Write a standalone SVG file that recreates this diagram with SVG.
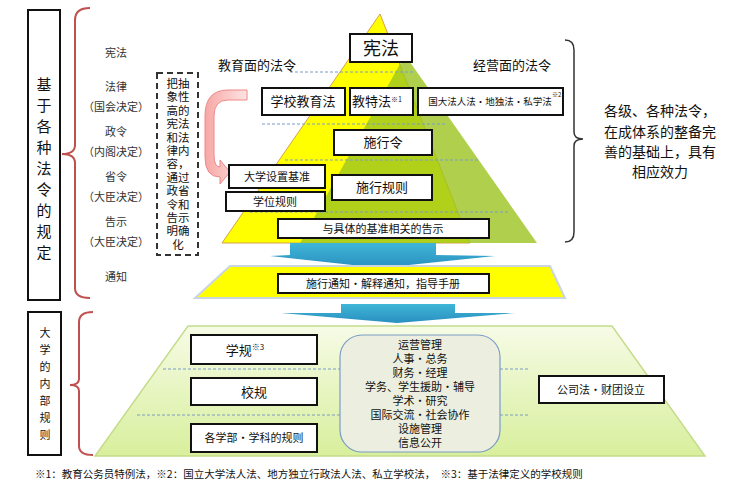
<svg xmlns="http://www.w3.org/2000/svg" width="752" height="498" viewBox="0 0 752 498">
<style>
text{font-family:"Noto Sans CJK SC","Liberation Sans",sans-serif;fill:#111}
.b{fill:#fff;stroke:#111;stroke-width:2}
.d{stroke:#7a9cc6;stroke-width:1;stroke-dasharray:3 2;fill:none}
.br{fill:none;stroke:#c0504d;stroke-width:2}
.t{font-size:13px;text-anchor:middle}
.s{font-size:11px;text-anchor:middle;fill:#333}
</style>
<defs>
<linearGradient id="g" x1="0" y1="0" x2="0" y2="1"><stop offset="0" stop-color="#f6fbe6"/><stop offset="1" stop-color="#d8ef9c"/></linearGradient>
<linearGradient id="bl" x1="0" y1="0" x2="0" y2="1"><stop offset="0" stop-color="#3fb6d8"/><stop offset="1" stop-color="#2a8fbf"/></linearGradient>
<linearGradient id="pk" x1="0" y1="0" x2="1" y2="0"><stop offset="0" stop-color="#f7a7a5"/><stop offset="1" stop-color="#fde4e3"/></linearGradient>
</defs>
<g id="left-top"><rect x="28" y="10" width="32" height="290" fill="#fff" stroke="#111" stroke-width="2"/>
<text x="44" y="90" font-size="15" text-anchor="middle" fill="#333"><tspan x="44">基</tspan><tspan x="44" dy="21">于</tspan><tspan x="44" dy="21">各</tspan><tspan x="44" dy="21">种</tspan><tspan x="44" dy="21">法</tspan><tspan x="44" dy="21">令</tspan><tspan x="44" dy="21">的</tspan><tspan x="44" dy="21">规</tspan><tspan x="44" dy="21">定</tspan></text></g>
<path class="br" d="M90 8 Q75 8 75 20 V145 Q75 154 62 154 Q75 154 75 163 V288 Q75 298 90 298"/>
<g id="levels">
<text class="s" x="116" y="57">宪法</text>
<text class="s" x="116" y="91">法律</text><text class="s" x="116" y="111">（国会决定）</text>
<text class="s" x="116" y="136">政令</text><text class="s" x="116" y="156">（内阁决定）</text>
<text class="s" x="116" y="181">省令</text><text class="s" x="116" y="201">（大臣决定）</text>
<text class="s" x="116" y="226">告示</text><text class="s" x="116" y="246">（大臣决定）</text>
<text class="s" x="116" y="281">通知</text></g>
<g id="note"><rect x="157" y="73" width="41" height="182" fill="#fff" stroke="#333" stroke-width="2" stroke-dasharray="6 4"/>
<text font-size="11.5" text-anchor="middle"><tspan x="178" y="88">把抽</tspan><tspan x="178" dy="13.4">象性</tspan><tspan x="178" dy="13.4">高的</tspan><tspan x="178" dy="13.4">宪法</tspan><tspan x="178" dy="13.4">和法</tspan><tspan x="178" dy="13.4">律内</tspan><tspan x="178" dy="13.4">容，</tspan><tspan x="178" dy="13.4">通过</tspan><tspan x="178" dy="13.4">政省</tspan><tspan x="178" dy="13.4">令和</tspan><tspan x="178" dy="13.4">告示</tspan><tspan x="178" dy="13.4">明确</tspan><tspan x="178" dy="13.4">化</tspan></text></g>
<g id="pyramid">
<polygon points="380,14 222,243 470,243" fill="#ffff00" stroke="#d6a04a" stroke-width="1"/>
<polygon points="405,55 537,243 300,243" fill="#9cc421" opacity="0.8"/>
<line x1="290" y1="72" x2="415" y2="72" class="d"/>
<line x1="262" y1="124" x2="445" y2="124" class="d"/>
<line x1="285" y1="160" x2="480" y2="160" class="d"/>
<line x1="250" y1="212" x2="510" y2="212" class="d"/>
</g>
<path d="M247 100 H228 Q214 100 214 116 V155 Q214 167 220 167 V160 L230 172 L220 184 V177 Q205 177 205 157 V116 Q205 90 228 90 H247 Z" fill="url(#pk)" stroke="#e88" stroke-width="1"/>
<text x="257" y="70" font-size="13" text-anchor="middle">教育面的法令</text>
<text x="512" y="70" font-size="13" text-anchor="middle">经营面的法令</text>
<g id="n-kenpo"><rect class="b" x="350" y="34" width="62" height="28"/><text x="381" y="55" font-size="18" text-anchor="middle">宪法</text></g>
<g id="n-gakko"><rect class="b" x="262" y="88" width="83" height="27"/><text class="t" x="303" y="106">学校教育法</text></g>
<g id="n-kyotoku"><rect class="b" x="350" y="88" width="63" height="27"/><text class="t" x="377" y="106">教特法<tspan font-size="7" dy="-4">※1</tspan></text></g>
<g id="n-kokudai"><rect class="b" x="418" y="88" width="145" height="27"/><text x="490" y="105" font-size="9.5" text-anchor="middle" fill="#333">国大法人法・地独法・私学法</text><text x="552" y="97" font-size="6" fill="#333">※2</text></g>
<g id="n-shikorei"><rect class="b" x="334" y="130" width="98" height="25"/><text class="t" x="383" y="147">施行令</text></g>
<g id="n-settchi"><rect class="b" x="229" y="165" width="96" height="23"/><text x="277" y="181" font-size="11" text-anchor="middle">大学设置基准</text></g>
<g id="n-shikokisoku"><rect class="b" x="332" y="175" width="100" height="25"/><text class="t" x="382" y="192">施行规则</text></g>
<g id="n-gakui"><rect class="b" x="226" y="192" width="99" height="19"/><text x="275" y="206" font-size="11" text-anchor="middle">学位规则</text></g>
<g id="n-kokuji"><rect class="b" x="278" y="219" width="211" height="19"/><text x="383" y="233" font-size="11" text-anchor="middle">与具体的基准相关的告示</text></g>
<path d="M565 40 Q574 40 574 50 V132 Q574 139 583 139 Q574 139 574 146 V232 Q574 242 565 242" fill="none" stroke="#333" stroke-width="1.5"/>
<text font-size="14" text-anchor="middle"><tspan x="660" y="116">各级、各种法令，</tspan><tspan x="660" y="137">在成体系的整备完</tspan><tspan x="660" y="157">善的基础上，具有</tspan><tspan x="660" y="177">相应效力</tspan></text>
<g id="connectors">
<polygon points="290,243 436,243 436,255 495,256 380,268 270,256 290,255" fill="url(#bl)"/>
<polygon points="341,304 455,304 455,313 515,313 397,323 281,313 341,313" fill="url(#bl)"/>
</g>
<polygon points="230,266 550,266 565,298 195,298" fill="#ffff00" stroke="#c9d6e0" stroke-width="2"/>
<g id="n-tsuchi"><rect class="b" x="278" y="274" width="211" height="19"/><text x="383" y="288" font-size="11" text-anchor="middle">施行通知・解释通知，指导手册</text></g>
<g id="left-bottom"><rect x="28" y="312" width="33" height="143" fill="#fff" stroke="#111" stroke-width="2"/>
<text font-size="11" text-anchor="middle" fill="#333"><tspan x="45" y="337">大</tspan><tspan x="45" dy="17">学</tspan><tspan x="45" dy="17">的</tspan><tspan x="45" dy="17">内</tspan><tspan x="45" dy="17">部</tspan><tspan x="45" dy="17">规</tspan><tspan x="45" dy="17">则</tspan></text></g>
<path class="br" d="M93 312 Q79 312 79 322 V379 Q79 385 70 385 Q79 385 79 391 V446 Q79 455 93 455"/>
<polygon points="188,326 612,326 705,456 95,456" fill="url(#g)" stroke="#c5dc8a" stroke-width="1.5"/>
<line x1="163" y1="369" x2="340" y2="369" class="d"/><line x1="500" y1="369" x2="530" y2="369" class="d"/>
<line x1="137" y1="415" x2="340" y2="415" class="d"/><line x1="500" y1="415" x2="530" y2="415" class="d"/>
<g id="n-gakki"><rect class="b" x="191" y="335" width="126" height="29"/><text class="t" x="245" y="355">学规<tspan font-size="8" dy="-5">※3</tspan></text></g>
<g id="n-koki"><rect class="b" x="191" y="378" width="126" height="27"/><text class="t" x="254" y="397">校规</text></g>
<g id="n-gakubu"><rect class="b" x="191" y="424" width="126" height="28"/><text x="254" y="442" font-size="11" text-anchor="middle">各学部・学科的规则</text></g>
<g id="n-areas"><rect x="340" y="335" width="160" height="117" rx="22" fill="#ecefdf" stroke="#7a9cc6" stroke-width="1.2"/>
<text font-size="11" text-anchor="middle"><tspan x="420" y="349">运营管理</tspan><tspan x="420" dy="14">人事・总务</tspan><tspan x="420" dy="14">财务・经理</tspan><tspan x="420" dy="14">学务、学生援助・辅导</tspan><tspan x="420" dy="14">学术・研究</tspan><tspan x="420" dy="14">国际交流・社会协作</tspan><tspan x="420" dy="14">设施管理</tspan><tspan x="420" dy="14">信息公开</tspan></text></g>
<g id="n-kaisha"><rect class="b" x="539" y="376" width="125" height="27"/><text x="601" y="394" font-size="11" text-anchor="middle">公司法・财团设立</text></g>
<text x="35" y="478" font-size="10.5" fill="#333">※1：教育公务员特例法，※2：国立大学法人法、地方独立行政法人法、私立学校法，　※3：基于法律定义的学校规则</text>
</svg>
